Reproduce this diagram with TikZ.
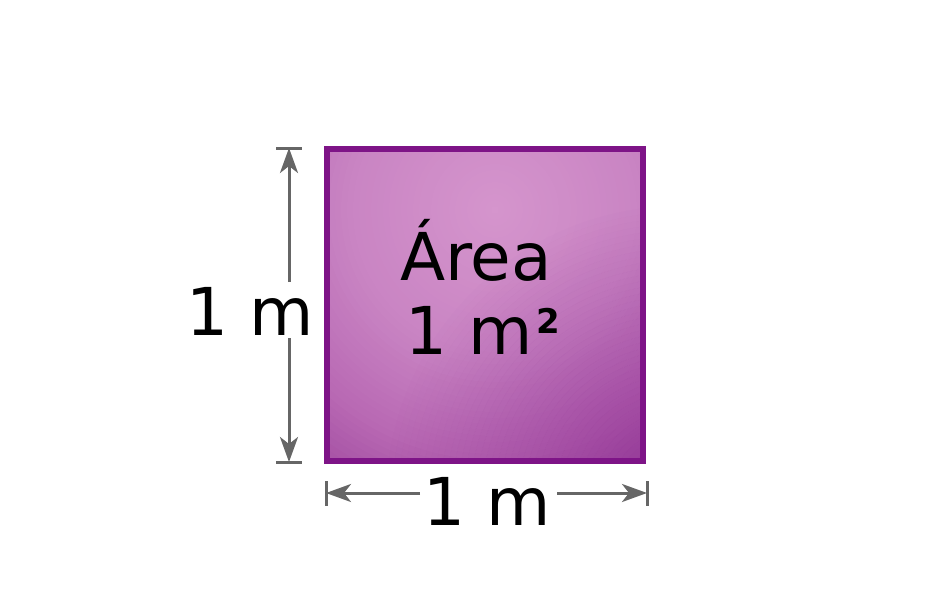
\documentclass[tikz,border=0pt]{standalone}
\usepackage{fontspec}
\usepackage{graphicx}
\setmainfont{DejaVu Sans}
\usetikzlibrary{arrows.meta}
\definecolor{sqborder}{HTML}{7E1487}
\definecolor{dimgray}{HTML}{666666}
\definecolor{sqA}{HTML}{D595CD}
\definecolor{sqB}{HTML}{C984C3}
\definecolor{sqC}{HTML}{B868B3}
\definecolor{sqD}{HTML}{A854A6}
\definecolor{sqDark}{HTML}{8A2A90}
\tikzset{
  dimline/.style={draw=dimgray, line width=3pt},
  dimarrow/.style={dimline, -{Stealth[length=25pt, width=18pt, inset=7pt]}},
  bigtext/.style={font=\fontsize{66}{75}\selectfont, anchor=base, inner sep=0pt},
}
\begin{document}
\begin{tikzpicture}[x=1pt, y=-1pt]
\useasboundingbox (0,0) rectangle (950,608);
% square
\coordinate (sqtl) at (327,149);
\coordinate (sqbr) at (643,461);
\coordinate (light) at (495,210);
\coordinate (darkc) at (680,500);
\begin{scope}
  \clip (sqtl) rectangle (sqbr);
  \foreach \r in {340,334,...,4}{
    \ifdim\r pt<150pt
      \pgfmathsetmacro\p{100*\r/150}\colorlet{cc}{sqB!\p!sqA}%
    \else\ifdim\r pt<250pt
      \pgfmathsetmacro\p{100*(\r-150)/100}\colorlet{cc}{sqC!\p!sqB}%
    \else\ifdim\r pt<300pt
      \pgfmathsetmacro\p{100*(\r-250)/50}\colorlet{cc}{sqD!\p!sqC}%
    \else
      \colorlet{cc}{sqD}%
    \fi\fi\fi
    \fill[cc] (light) circle (\r);
  }
  \foreach \r in {300,294,...,6}{
    \pgfmathsetmacro\op{0.7*(1-\r/300)}
    \fill[sqDark, fill opacity=\op, even odd rule] (darkc) circle (\r) circle (\r-6);
  }
  \fill[sqDark, fill opacity=0.7] (darkc) circle (6);
\end{scope}
\draw[sqborder, line width=6pt] (sqtl) rectangle (sqbr);
\node[bigtext] (area) at (476,280) {Área};
\node[bigtext] (areaval) at (483,354) {1 m\hspace{4pt}\raisebox{21pt}{\fontsize{34}{34}\selectfont\bfseries 2}};
% left dimension
\coordinate (lt1) at (276,148); \coordinate (lt2) at (302,148);
\coordinate (lb1) at (276,462); \coordinate (lb2) at (302,462);
\coordinate (ltop) at (289,148); \coordinate (lbot) at (289,462);
\coordinate (lgap1) at (289,282); \coordinate (lgap2) at (289,338);
\draw[dimline] (lt1) -- (lt2);
\draw[dimline] (lb1) -- (lb2);
\draw[dimarrow] (lgap1) -- (ltop);
\draw[dimarrow] (lgap2) -- (lbot);
\node[bigtext] (leftlab) at (250,335) {1 m};
% bottom dimension
\coordinate (bl1) at (326,481); \coordinate (bl2) at (326,506);
\coordinate (br1) at (647,481); \coordinate (br2) at (647,506);
\coordinate (bleft) at (326,493); \coordinate (bright) at (647,493);
\coordinate (bgap1) at (420,493); \coordinate (bgap2) at (557,493);
\draw[dimline] (bl1) -- (bl2);
\draw[dimline] (br1) -- (br2);
\draw[dimarrow] (bgap1) -- (bleft);
\draw[dimarrow] (bgap2) -- (bright);
\node[bigtext] (botlab) at (487,525) {1 m};
\end{tikzpicture}
\end{document}
